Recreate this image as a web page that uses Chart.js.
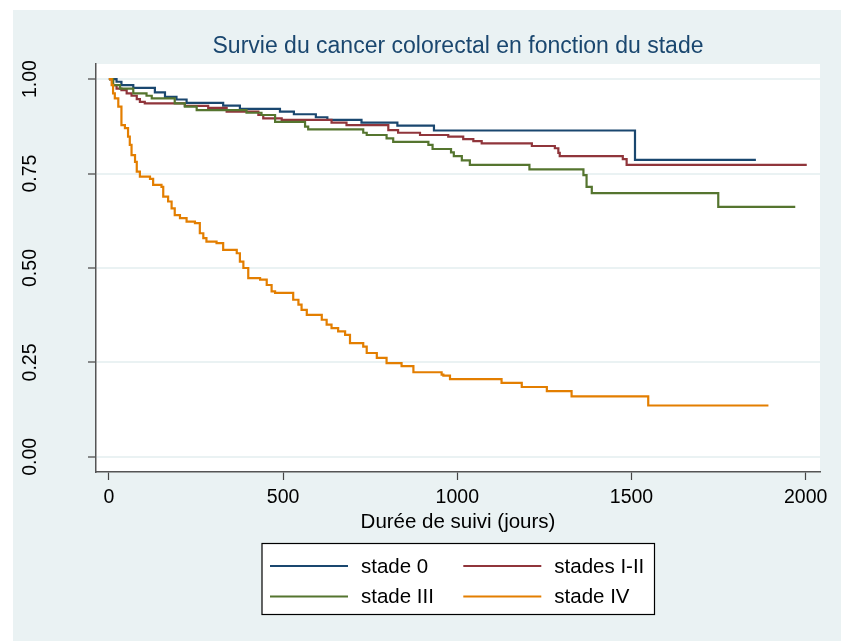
<!DOCTYPE html>
<html>
<head>
<meta charset="utf-8">
<title>Survie du cancer colorectal</title>
<script src="https://cdn.jsdelivr.net/npm/chart.js@4.4.0/dist/chart.umd.min.js"></script>
<style>
  html, body { margin: 0; padding: 0; background: #fff; }
  canvas { display: block; }
</style>
</head>
<body>
<canvas id="km" width="841" height="641"></canvas>
<script>
// courbes de Kaplan-Meier : jours de suivi / survie
const labels = ['stade 0', 'stades I-II', 'stade III', 'stade IV']
const colors = ['#1a476f', '#90353b', '#55752f', '#e37e00']

const jours0 = [0, 22, 36, 70, 132, 161, 194, 223, 328, 376, 491, 531, 594, 627, 725, 828, 933, 1510, 1857]
const survie0 = [1, 0.993, 0.984, 0.977, 0.965, 0.953, 0.946, 0.937, 0.930, 0.921, 0.914, 0.907, 0.899, 0.892, 0.885, 0.877, 0.864, 0.786, 0.786]

const jours12 = [0, 12, 22, 36, 51, 65, 80, 89, 103, 218, 285, 338, 429, 443, 496, 639, 682, 802, 830, 893, 974, 1017, 1046, 1070, 1214, 1280, 1290, 1294, 1475, 1486, 2003]
const survie12 = [1, 0.984, 0.975, 0.971, 0.962, 0.956, 0.947, 0.940, 0.936, 0.929, 0.924, 0.914, 0.905, 0.896, 0.892, 0.885, 0.878, 0.865, 0.858, 0.852, 0.848, 0.841, 0.836, 0.830, 0.823, 0.817, 0.805, 0.796, 0.788, 0.773, 0.773]

const jours3 = [0, 12, 32, 70, 108, 123, 189, 218, 252, 395, 438, 477, 563, 572, 730, 740, 797, 816, 917, 929, 982, 990, 1013, 1036, 1207, 1362, 1371, 1386, 1749, 1970]
const survie3 = [1, 0.984, 0.975, 0.962, 0.956, 0.949, 0.936, 0.927, 0.918, 0.911, 0.905, 0.887, 0.874, 0.867, 0.858, 0.852, 0.843, 0.834, 0.826, 0.815, 0.806, 0.796, 0.785, 0.773, 0.761, 0.746, 0.715, 0.698, 0.662, 0.662]

const jours4 = [0, 8, 12, 17, 27, 36, 46, 55, 60, 65, 75, 80, 89, 118, 127, 151, 156, 170, 180, 189, 204, 223, 247, 261, 271, 280, 309, 328, 367, 376, 386, 400, 434, 453, 467, 477, 529, 544, 553, 568, 611, 625, 639, 658, 678, 692, 730, 740, 769, 797, 840, 874, 955, 960, 979, 1127, 1185, 1257, 1328, 1548, 1893]
const survie4 = [1, 0.984, 0.962, 0.949, 0.927, 0.878, 0.870, 0.848, 0.826, 0.799, 0.781, 0.755, 0.742, 0.736, 0.720, 0.715, 0.689, 0.676, 0.658, 0.640, 0.632, 0.623, 0.619, 0.592, 0.579, 0.570, 0.566, 0.548, 0.539, 0.517, 0.500, 0.473, 0.469, 0.455, 0.438, 0.434, 0.416, 0.403, 0.389, 0.376, 0.363, 0.350, 0.341, 0.332, 0.323, 0.301, 0.292, 0.275, 0.262, 0.248, 0.240, 0.224, 0.218, 0.215, 0.206, 0.196, 0.185, 0.174, 0.160, 0.136, 0.136]

const xTicks = [0, 500, 1000, 1500, 2000]
const yTicks = [0, 0.25, 0.5, 0.75, 1]

const titre = 'Survie du cancer colorectal en fonction du stade'
const titreX = 'Durée de suivi (jours)'

const police = "'Liberation Sans', Arial, sans-serif"
const fond = '#eaf2f3'

const series = [[jours0, survie0], [jours12, survie12], [jours3, survie3], [jours4, survie4]]

const datasets = series.map(([t, s], i) => ({
  label: labels[i],
  data: t.map((v, k) => ({ x: v, y: s[k] })),
  borderColor: colors[i],
  borderWidth: 2.2,
  pointRadius: 0,
  stepped: true,
  fill: false,
  order: 3 - i
}))

// fond gris-bleu, zone du graphique blanche
const fondPlugin = {
  id: 'fond',
  beforeDraw(chart) {
    const c = chart.ctx
    const a = chart.chartArea
    c.save()
    c.fillStyle = '#fff'
    c.fillRect(0, 0, chart.width, chart.height)
    c.fillStyle = fond
    c.fillRect(13, 10, chart.width - 13, chart.height - 10)
    c.fillStyle = '#fff'
    c.fillRect(a.left, a.top, a.right - a.left, a.bottom - a.top)
    c.restore()
  }
}

// titre + légende en deux colonnes comme dans Stata
const legendePlugin = {
  id: 'legende',
  afterDraw(chart) {
    const c = chart.ctx
    const a = chart.chartArea
    c.save()
    c.fillStyle = '#1a476f'
    c.font = '23px ' + police
    c.textAlign = 'center'
    c.textBaseline = 'middle'
    c.fillText(titre, (a.left + a.right) / 2, 47)

    c.fillStyle = '#fff'
    c.fillRect(262, 543.5, 392.5, 71)
    c.strokeStyle = '#000'
    c.lineWidth = 1.2
    c.strokeRect(262, 543.5, 392.5, 71)
    c.font = '20.5px ' + police
    c.textAlign = 'left'
    chart.data.datasets.forEach((ds, i) => {
      const x = 270 + (i % 2) * 193.3
      const y = 566 + Math.floor(i / 2) * 30.5
      c.strokeStyle = ds.borderColor
      c.lineWidth = 2
      c.beginPath()
      c.moveTo(x, y)
      c.lineTo(x + 78, y)
      c.stroke()
      c.fillStyle = '#000'
      c.fillText(ds.label, x + 91, y + 1)
    })
    c.restore()
  }
}

new Chart(document.getElementById('km'), {
  type: 'line',
  data: { datasets },
  plugins: [fondPlugin, legendePlugin],
  options: {
    responsive: false,
    animation: false,
    events: [],
    layout: { padding: { left: 0, top: 64, right: 21, bottom: 0 } },
    plugins: {
      legend: { display: false },
      title: { display: false },
      tooltip: { enabled: false }
    },
    scales: {
      x: {
        type: 'linear',
        min: -37,
        max: 2041,
        afterBuildTicks: s => { s.ticks = xTicks.map(v => ({ value: v })) },
        afterFit: s => { s.height = 169 },
        ticks: {
          color: '#000',
          font: { family: police, size: 19.5 },
          padding: 6,
          maxRotation: 0,
          callback: v => String(v)
        },
        grid: { drawOnChartArea: false, tickLength: 8, tickColor: '#444', tickWidth: 1.2 },
        border: { display: true, color: '#555', width: 1.5 },
        title: {
          display: true,
          text: titreX,
          color: '#000',
          font: { family: police, size: 20.5 },
          padding: { top: 0, bottom: 106 }
        }
      },
      y: {
        type: 'linear',
        min: -0.04,
        max: 1.04,
        afterBuildTicks: s => { s.ticks = yTicks.map(v => ({ value: v })) },
        afterFit: s => { s.width = 96 },
        ticks: {
          color: '#000',
          font: { family: police, size: 19.5 },
          minRotation: 90,
          maxRotation: 90,
          crossAlign: 'center',
          padding: 38,
          callback: v => v.toFixed(2)
        },
        grid: { color: fond, lineWidth: 2, tickLength: 8, tickColor: '#444', tickWidth: 1.2 },
        border: { display: true, color: '#555', width: 1.5 }
      }
    }
  }
})
</script>
</body>
</html>
